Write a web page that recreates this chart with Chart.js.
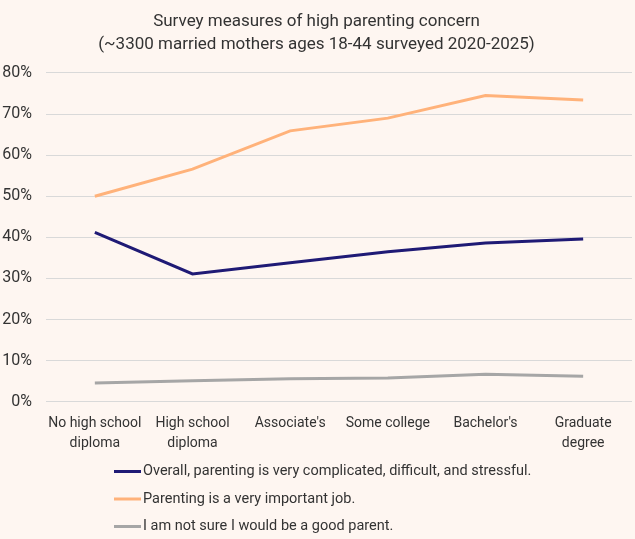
<!DOCTYPE html>
<html>
<head>
<meta charset="utf-8">
<script src="https://cdn.jsdelivr.net/npm/chart.js@4.4.1/dist/chart.umd.min.js"></script>
<style>
  html, body { margin: 0; padding: 0; background: #FEF6F1; }
  #wrap { width: 635px; height: 539px; position: relative; }
</style>
</head>
<body>
<div id="wrap"><canvas id="c"></canvas></div>
<script>
const FONT = '"Roboto", "Liberation Sans", sans-serif';
const TEXT = '#333333';

const categories = [
  ['No high school', 'diploma'],
  ['High school', 'diploma'],
  "Associate's",
  'Some college',
  "Bachelor's",
  ['Graduate', 'degree']
];
const seriesNames = [
  'Overall, parenting is very complicated, difficult, and stressful.',
  'Parenting is a very important job.',
  'I am not sure I would be a good parent.'
];
const stressful = [41.2, 31.1, 33.8, 36.5, 38.6, 39.6];
const importantJob = [50.0, 56.6, 65.9, 69.0, 74.5, 73.4];
const notSure = [4.6, 5.1, 5.6, 5.8, 6.7, 6.2];
const seriesColors = ['#1F1A75', '#FFB27A', '#A6A6A6'];
const yTicks = [0, 10, 20, 30, 40, 50, 60, 70, 80];

const legendPlugin = {
  id: 'vertLegend',
  afterDraw(chart) {
    const ctx = chart.ctx;
    ctx.save();
    ctx.font = '14.5px ' + FONT;
    ctx.textBaseline = 'middle';
    ctx.textAlign = 'left';
    const x0 = 114, y0 = 471.5, step = 27.5;
    chart.data.datasets.forEach((ds, i) => {
      const y = y0 + i * step;
      ctx.strokeStyle = ds.borderColor;
      ctx.lineWidth = 3;
      ctx.beginPath();
      ctx.moveTo(x0, y);
      ctx.lineTo(x0 + 27, y);
      ctx.stroke();
      ctx.fillStyle = TEXT;
      ctx.fillText(ds.label, x0 + 29, y);
    });
    ctx.restore();
  }
};

const bgPlugin = {
  id: 'bg',
  beforeDraw(chart) {
    const ctx = chart.ctx;
    ctx.save();
    ctx.fillStyle = '#FEF6F1';
    ctx.fillRect(0, 0, chart.width, chart.height);
    ctx.restore();
  }
};

new Chart(document.getElementById('c'), {
  type: 'line',
  data: {
    labels: categories,
    datasets: [stressful, importantJob, notSure].map((d, i) => ({
      label: seriesNames[i],
      data: d,
      borderColor: seriesColors[i],
      backgroundColor: seriesColors[i],
      borderWidth: 3,
      pointRadius: 0,
      tension: 0,
      fill: false
    }))
  },
  options: {
    responsive: true,
    maintainAspectRatio: false,
    animation: false,
    layout: { autoPadding: false, padding: { left: 1, right: 3, top: 0, bottom: 74 } },
    plugins: {
      legend: { display: false },
      tooltip: { enabled: false },
      title: {
        display: true,
        text: ['Survey measures of high parenting concern', '(~3300 married mothers ages 18-44 surveyed 2020-2025)'],
        color: TEXT,
        font: { family: FONT, size: 17, weight: 'normal', lineHeight: 1.35 },
        padding: { top: 10, bottom: 17 }
      }
    },
    scales: {
      x: {
        offset: true,
        grid: { display: false, drawTicks: false },
        border: { display: false },
        ticks: {
          color: TEXT,
          font: { family: FONT, size: 14, lineHeight: 1.4 },
          maxRotation: 0,
          autoSkip: false,
          padding: 12
        }
      },
      y: {
        min: 0,
        max: 80,
        afterBuildTicks(axis) { axis.ticks = yTicks.map(v => ({ value: v })); },
        afterFit(axis) { axis.width = 45; },
        grid: { color: '#D9D9D9', lineWidth: 1, drawTicks: false },
        border: { display: false },
        ticks: {
          color: TEXT,
          font: { family: FONT, size: 16 },
          padding: 14,
          callback: v => v + '%'
        }
      }
    }
  },
  plugins: [bgPlugin, legendPlugin]
});
</script>
</body>
</html>
